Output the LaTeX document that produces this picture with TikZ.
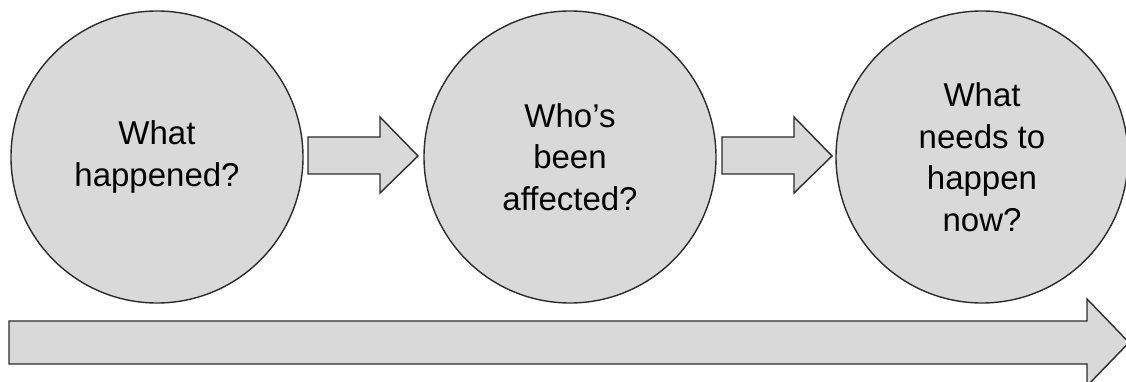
\documentclass[tikz,border=0pt]{standalone}
\usepackage{fontspec}
\setmainfont{Liberation Sans}
\usetikzlibrary{calc}

\definecolor{shapegray}{HTML}{D9D9D9}
\definecolor{edgegray}{HTML}{2B2B2B}

\tikzset{
  stepcircle/.style={circle, draw=edgegray, fill=shapegray, line width=1.4pt,
    minimum size=292pt, inner sep=0pt, align=center,
    font=\fontsize{33}{41.5}\selectfont},
  blockarrow/.style={draw=edgegray, fill=shapegray, line width=1.4pt, line join=miter},
}

\begin{document}
\begin{tikzpicture}[x=1pt,y=-1pt]
\useasboundingbox (0,0) rectangle (1126,382);
\begin{scope}
\clip (0,0) rectangle (1126,382);

\node[stepcircle] (what) at (157,157) {What\\happened?};
\node[stepcircle] (who) at (570,157) {Who’s\\been\\affected?};
\node[stepcircle] (next) at (982,157) {What\\needs to\\happen\\now?};

% small arrows between the circles
\draw[blockarrow] (308,137) -- (380,137) -- (380,117) -- (418,156)
  -- (380,193) -- (380,174) -- (308,174) -- cycle;
\draw[blockarrow] (722,137) -- (794,137) -- (794,117) -- (832,156)
  -- (794,193) -- (794,174) -- (722,174) -- cycle;

% long arrow along the bottom
\draw[blockarrow] (9,321) -- (1087,321) -- (1087,299) -- (1129,342.5)
  -- (1087,386) -- (1087,364) -- (9,364) -- cycle;
\end{scope}
\end{tikzpicture}
\end{document}
